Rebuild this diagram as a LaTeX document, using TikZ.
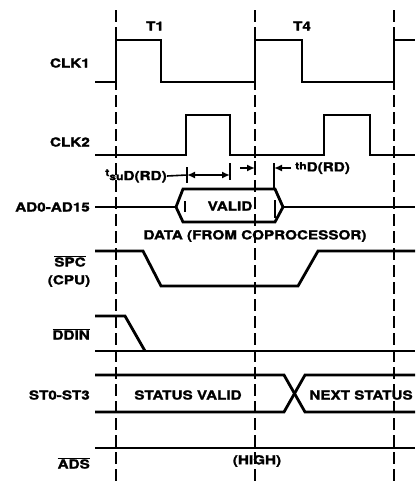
\documentclass[tikz,border=0pt]{standalone}
\usepackage{fontspec}
\setmainfont{TeX Gyre Heros}[FakeStretch=1.22, BoldFeatures={FakeBold=1.6}]
\usetikzlibrary{arrows.meta}
\begin{document}
\begin{tikzpicture}[x=1pt,y=-1pt]

\useasboundingbox (0,0) rectangle (420,482);

\tikzstyle{wave}=[line width=2.8pt]
\tikzstyle{guide}=[line width=1.5pt, dash pattern=on 12pt off 5pt]
\tikzstyle{sig}=[inner sep=0pt, font=\bfseries\fontsize{12.5}{14}\selectfont]
\tikzstyle{tiny}=[line width=1.6pt]
\tikzstyle{tip}=[{Latex[length=8pt,width=7pt]}]

% Clock period markers

\draw[guide] (116,10) -- (116,482);
\draw[guide] (255,10) -- (255,482);
\draw[guide] (394,10) -- (394,482);

\node (T) [sig] at (155,26) {T1};
\node (U) [sig] at (302,26) {T4};

%%% Signal names

\node (A) [sig, anchor=east] at (90,63) {CLK1};
\node (B) [sig, anchor=east] at (90,142) {CLK2};
\node (C) [sig, anchor=east] at (90,207) {AD0-AD15};
\node (D) [sig] at (70,261) {$\overline{\hbox{SPC}}$};
\node (E) [sig] at (69,281) {(CPU)};
\node (F) [sig, anchor=east] at (90,334) {$\overline{\hbox{DDIN}}$};
\node (G) [sig, anchor=east] at (90,395) {ST0-ST3};
\node (H) [sig, anchor=east] at (90,463) {$\overline{\hbox{ADS}}$};

% CLK1

\draw[wave] (95,82) -- (116,82) -- (116,40) -- (161,40) -- (161,82)
  -- (255,82) -- (255,40) -- (302,40) -- (302,82)
  -- (394,82) -- (394,40) -- (415,40);

% CLK2

\draw[wave] (95,155) -- (186,155) -- (186,115) -- (230,115) -- (230,155)
  -- (324,155) -- (324,115) -- (370,115) -- (370,155) -- (415,155);

% AD0-AD15 bus

\draw[wave] (95,207) -- (176,207);
\draw[wave] (283,207) -- (415,207);
\draw[wave] (176,207) -- (183,189) -- (275,189) -- (283,207)
  -- (275,222) -- (183,222) -- cycle;

\draw[tiny] (185,201) -- (185,212);
\draw[tiny] (275,200) -- (275,218);

\node (I) [sig] at (230,206) {VALID};
\node (J) [sig] at (255,236) {DATA (FROM COPROCESSOR)};

% Setup time

\node (K) [sig] at (136,176)
  {{\fontsize{10}{10}\selectfont\raisebox{4pt}{t}su}D(RD)};

\draw[tiny] (K.east) -- (187,175);
\draw[tiny] (187,167) -- (187,183);
\draw[tiny] (230,163) -- (230,180);
\draw[tiny, {Latex[length=8pt,width=7pt]}-{Latex[length=8pt,width=7pt]}]
  (187,175) -- (230,175);

% Hold time

\draw[tiny] (255,161) -- (255,175);
\draw[tiny] (274,163) -- (274,189);
\draw[tiny, -{Latex[length=8pt,width=7pt]}] (240,168) -- (255,168);
\draw[tiny, -{Latex[length=8pt,width=7pt]}] (291,168) -- (274,168);

\node (L) [sig, anchor=west] at (295,168)
  {\raisebox{2pt}{\fontsize{10}{10}\selectfont th}D(RD)};

% SPC

\draw[wave] (95,251) -- (143,251) -- (161,286) -- (298,286) -- (318,251)
  -- (415,251);

% DDIN

\draw[wave] (95,316) -- (125,316) -- (145,351);
\draw[wave] (95,351) -- (415,351);

% ST0-ST3

\draw[wave] (95,375) -- (284,375) -- (305,412) -- (415,412);
\draw[wave] (95,412) -- (284,412) -- (305,375) -- (415,375);

\node (M) [sig] at (188,395) {STATUS VALID};
\node (N) [sig] at (361,395) {NEXT STATUS};

% ADS

\draw[wave] (95,448) -- (415,448);

\node (P) [sig] at (257,461) {(HIGH)};

\end{tikzpicture}
\end{document}
